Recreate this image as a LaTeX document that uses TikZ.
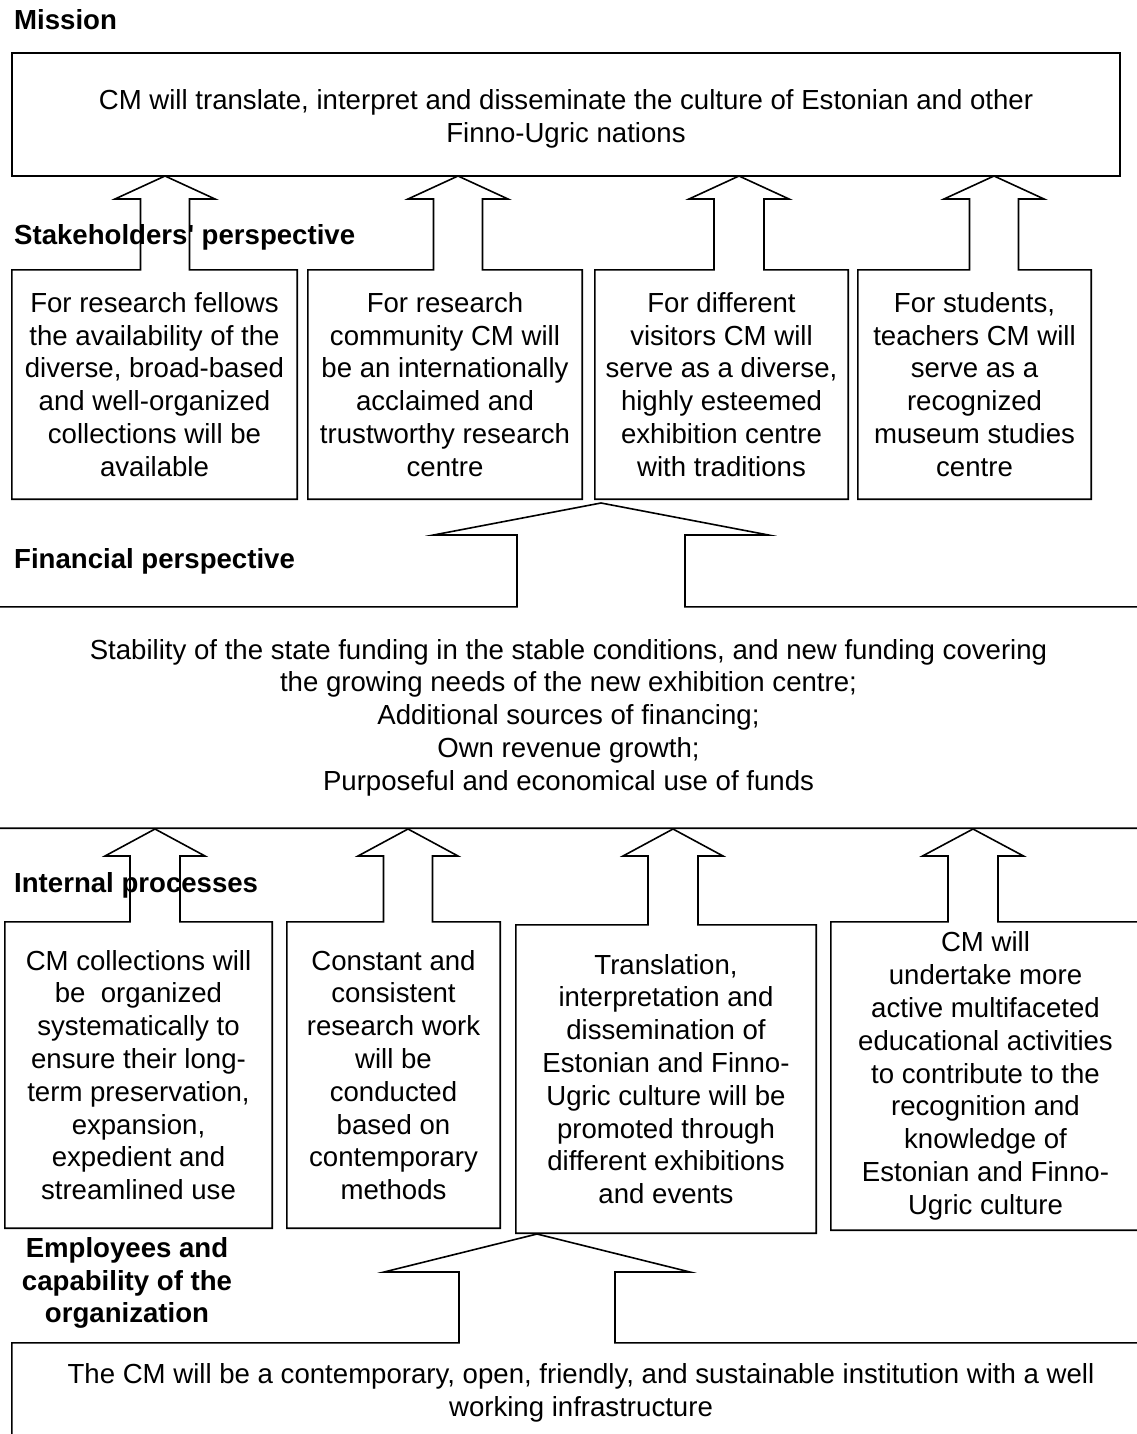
\documentclass[tikz,border=0pt]{standalone}
\usepackage{fontspec}
\newfontfamily\arialfont{Liberation Sans}
\usetikzlibrary{calc}

\tikzset{
  every picture/.style={x=1pt,y=-1pt},
  txt/.style={font=\arialfont\fontsize{27.6}{32.8}\selectfont, align=center, inner sep=0pt},
  heading/.style={font=\arialfont\bfseries\fontsize{27.6}{32.8}\selectfont, align=center, inner sep=0pt},
  outline/.style={line width=1.6pt, line join=miter, miter limit=20},
  card/.style 2 args={txt, minimum width=#1pt, minimum height=#2pt},
}

% Box outline merged with an upward block arrow leaving its top edge.
% #1 tip coordinate, #2 box node, #3 shaft half width, #4 head half width, #5 head height
\newcommand\blockup[5]{%
  \draw[outline] let \p1=(#1), \p2=(#2.north west), \p3=(#2.south east) in
    (\x2,\y2) -- (\x1-#3,\y2) -- (\x1-#3,\y1-#5) -- (\x1-#4,\y1-#5) -- (\p1)
    -- (\x1+#4,\y1-#5) -- (\x1+#3,\y1-#5) -- (\x1+#3,\y2) -- (\x3,\y2)
    -- (\x3,\y3) -- (\x2,\y3) -- cycle;}

\begin{document}
\begin{tikzpicture}
\useasboundingbox (0,0) rectangle (1137,1434);
\clip (0,0) rectangle (1137,1434);

% Mission (the strut lowers the two text lines a little inside the box)
\node[card={1108}{123}, draw, outline] (m) at (566,114.5)
  {\rule{0pt}{28pt}CM will translate, interpret and disseminate the culture of Estonian and other\\Finno-Ugric nations};

% Stakeholders' perspective
\node[card={285}{229}] (s1) at (154.5,384.5)
  {For research fellows\\the availability of the\\diverse, broad-based\\and well-organized\\collections will be\\available};
\node[card={274}{229}] (s2) at (445,384.5)
  {For research\\community CM will\\be an internationally\\acclaimed and\\trustworthy research\\centre};
\node[card={253}{229}] (s3) at (721.5,384.5)
  {For different\\visitors CM will\\serve as a diverse,\\highly esteemed\\exhibition centre\\with traditions};
\node[card={233}{229}] (s4) at (974.5,384.5)
  {For students,\\teachers CM will\\serve as a\\recognized\\museum studies\\centre};

\coordinate (t1) at (165,176);
\coordinate (t2) at (458,176);
\coordinate (t3) at (739,176);
\coordinate (t4) at (994,176);
\blockup{t1}{s1}{24.5pt}{50pt}{23pt}
\blockup{t2}{s2}{24.5pt}{50pt}{23pt}
\blockup{t3}{s3}{25pt}{50pt}{23pt}
\blockup{t4}{s4}{24.5pt}{50pt}{23pt}

% Financial perspective
\node[card={1157}{221}] (f) at (568.5,717.5)
  {Stability of the state funding in the stable conditions, and new funding covering\\the growing needs of the new exhibition centre;\\Additional sources of financing;\\Own revenue growth;\\Purposeful and economical use of funds};
\coordinate (tf) at (601,503);
\blockup{tf}{f}{84pt}{167.5pt}{32pt}

% Internal processes
\node[card={267}{306}] (i1) at (138.5,1075)
  {CM collections will\\be~ organized\\systematically to\\ensure their long-\\term preservation,\\expansion,\\expedient and\\streamlined use};
\node[card={213}{306}] (i2) at (393.5,1075)
  {Constant and\\consistent\\research work\\will be\\conducted\\based on\\contemporary\\methods};
\node[card={300}{308}] (i3) at (666,1079)
  {Translation,\\interpretation and\\dissemination of\\Estonian and Finno-\\Ugric culture will be\\promoted through\\different exhibitions\\and events};
\node[card={309}{308}] (i4) at (985.5,1076)
  {CM will\\undertake more\\active multifaceted\\educational activities\\to contribute to the\\recognition and\\knowledge of\\Estonian and Finno-\\Ugric culture};

\coordinate (ta) at (155,829);
\coordinate (tb) at (408,829);
\coordinate (tc) at (673,829);
\coordinate (td) at (973,829);
\blockup{ta}{i1}{25pt}{50pt}{27pt}
\blockup{tb}{i2}{24.5pt}{50pt}{27pt}
\blockup{tc}{i3}{25pt}{50pt}{27pt}
\blockup{td}{i4}{25pt}{50.5pt}{27pt}

% Employees and capability of the organization
\node[card={1138}{100}] (b) at (581,1393)
  {The CM will be a contemporary, open, friendly, and sustainable institution with a well\\working infrastructure};
\coordinate (tg) at (537,1234);
\blockup{tg}{b}{78pt}{153pt}{38pt}

% Perspective headings
\node[heading, anchor=west] (hm) at (14,20) {Mission};
\node[heading, anchor=west] (hs) at (14,237) {Stakeholders' perspective};
\node[heading, anchor=west] (hf) at (14,561) {Financial perspective};
\node[heading, anchor=west] (hi) at (14,885) {Internal processes};
\node[heading] (he) at (127,1283) {Employees and\\capability of the\\organization};
\end{tikzpicture}
\end{document}
